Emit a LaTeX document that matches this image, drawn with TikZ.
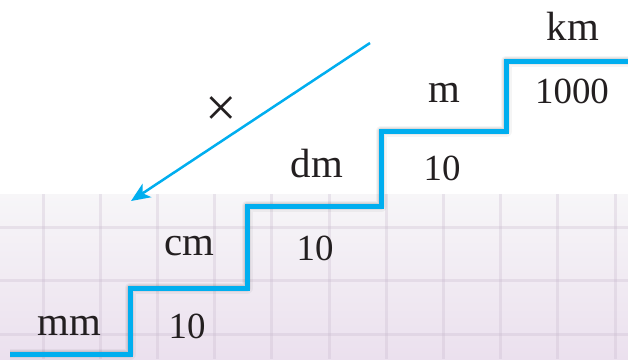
\documentclass[tikz,border=0pt]{standalone}
\usepackage{fontspec}
\setmainfont{Liberation Serif}
\usetikzlibrary{arrows.meta}
\definecolor{stairblue}{HTML}{00AEEF}
\definecolor{txt}{HTML}{231F20}
\definecolor{gtop}{HTML}{F7F6F8}
\definecolor{gbot}{HTML}{EBE0EE}
\definecolor{gridc}{HTML}{C8B9CD}
\begin{document}
\begin{tikzpicture}[x=1bp,y=-1bp,
  unitlbl/.style={inner sep=0pt,anchor=base,text=txt,font=\fontsize{41}{41}\selectfont},
  numlbl/.style={inner sep=0pt,anchor=base,text=txt,font=\fontsize{37}{37}\selectfont},
  stairline/.style={draw=stairblue,line width=5bp,line join=miter},
  shadowline/.style={draw=black,line join=round}
]
\useasboundingbox (0,0) rectangle (628,359);
\fill[white] (0,0) rectangle (628,359);
% grid area
\shade[top color=gtop,bottom color=gbot] (0,194) rectangle (628,359);
\foreach \x in {43,100.2,157.4,214.6,271.8,329,386.2,443.4,500.6,557.8,615}
  \draw[gridc,opacity=0.3,line width=3bp] (\x,194) -- (\x,359);
\foreach \y in {227,280.5,334}
  \draw[gridc,opacity=0.3,line width=3bp] (0,\y) -- (628,\y);
% staircase coordinates
\coordinate (s0) at (10,354);
\coordinate (s1) at (130,354);
\coordinate (s2) at (130,288);
\coordinate (s3) at (247,288);
\coordinate (s4) at (247,206);
\coordinate (s5) at (381,206);
\coordinate (s6) at (381,131);
\coordinate (s7) at (506,131);
\coordinate (s8) at (506,61);
\coordinate (s9) at (630,61);
% shadow
\foreach \w/\o in {11/0.04,8/0.05,6/0.06}
  \draw[shadowline,line width=\w bp,opacity=\o,shift={(2,3)}]
    (s0) -- (s1) -- (s2) -- (s3) -- (s4) -- (s5) -- (s6) -- (s7) -- (s8) -- (s9);
\draw[stairline] (s0) -- (s1) -- (s2) -- (s3) -- (s4) -- (s5) -- (s6) -- (s7) -- (s8) -- (s9);
% arrow
\coordinate (a1) at (370,43);
\coordinate (a2) at (131,201);
\draw[stairblue,line width=2.5bp,-{Stealth[length=19bp,width=16bp,inset=5bp]}] (a1) -- (a2);
\node[inner sep=0pt,text=txt,font=\fontsize{56}{56}\selectfont] (times) at (221,112) {×};
% labels
\node[unitlbl] (mm) at (69,335) {mm};
\node[numlbl] (n1) at (187,338) {10};
\node[unitlbl] (cm) at (189,255) {cm};
\node[numlbl] (n2) at (315,260) {10};
\node[unitlbl] (dm) at (317,177) {dm};
\node[numlbl] (n3) at (442,180) {10};
\node[unitlbl] (m) at (444,102) {m};
\node[numlbl] (n4) at (572,103) {1000};
\node[unitlbl] (km) at (573,40) {km};
\end{tikzpicture}
\end{document}
